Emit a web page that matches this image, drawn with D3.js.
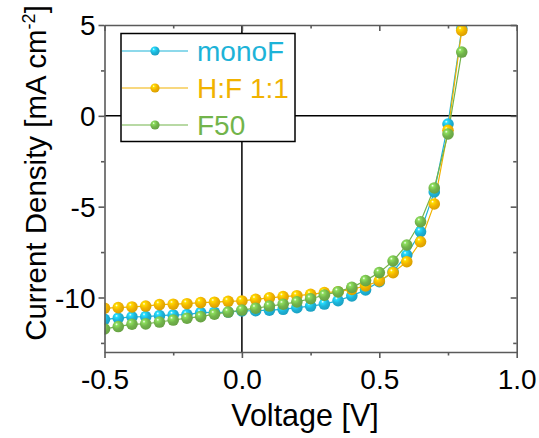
<!DOCTYPE html>
<html><head><meta charset="utf-8">
<script src="https://cdn.jsdelivr.net/npm/d3@7"></script>
<style>body{margin:0;background:#fff}svg{display:block}text{font-family:"Liberation Sans",Arial,sans-serif}</style>
</head><body>
<script>
const voltage = [-0.5,-0.45,-0.4,-0.35,-0.3,-0.25,-0.2,-0.15,-0.1,-0.05,0,0.05,0.1,0.15,0.2,0.25,0.3,0.35,0.4,0.45,0.5,0.55,0.6,0.65,0.7,0.75,0.8];
const monoF = [-11.20,-11.14,-11.07,-11.05,-11.00,-10.96,-10.94,-10.83,-10.82,-10.80,-10.74,-10.73,-10.70,-10.65,-10.56,-10.47,-10.36,-10.17,-9.91,-9.58,-9.13,-8.58,-7.66,-6.38,-4.19,-0.45,4.8];
const hf11 = [-10.59,-10.56,-10.52,-10.47,-10.39,-10.37,-10.34,-10.28,-10.26,-10.21,-10.19,-10.10,-10.02,-9.95,-9.90,-9.83,-9.73,-9.68,-9.55,-9.36,-9.09,-8.63,-8.03,-6.93,-4.85,-0.8,4.7];
const f50 = [-11.73,-11.60,-11.47,-11.45,-11.35,-11.24,-11.14,-11.05,-10.92,-10.80,-10.69,-10.59,-10.47,-10.37,-10.24,-10.07,-9.87,-9.68,-9.44,-9.07,-8.63,-7.99,-7.11,-5.83,-3.97,-1.0,3.51];
const seriesNames = ["monoF","H:F 1:1","F50"];
const seriesColors = ["#1db3d8","#f1b200","#72b44b"];
const xMajor = [-0.5,0,0.5,1.0], xMinor = [-0.25,0.25,0.75];
const xLabels = ["-0.5","0.0","0.5","1.0"];
const yMajor = [5,0,-5,-10], yMinor = [2.5,-2.5,-7.5,-12.5];
const yLabels = ["5","0","-5","-10"];

const W=539,H=438;
const L=104.5,R=516.7,T=25,B=352;
const x=d3.scaleLinear().domain([-0.5,1.0]).range([L,R]);
const y=d3.scaleLinear().domain([-13,5]).range([B,T]);
const svg=d3.select("body").append("svg").attr("width",W).attr("height",H);
const defs=svg.append("defs");
defs.append("clipPath").attr("id","clip").append("rect").attr("x",L).attr("y",T).attr("width",R-L).attr("height",B-T);

seriesColors.forEach((c,i)=>{
  const g=defs.append("radialGradient").attr("id","ball"+i).attr("cx","0.38").attr("cy","0.35").attr("r","0.7").attr("fx","0.35").attr("fy","0.3");
  const cc=d3.color(c);
  g.append("stop").attr("offset","0").attr("stop-color","#ffffff");
  g.append("stop").attr("offset","0.18").attr("stop-color",cc.brighter(0.6).formatHex());
  g.append("stop").attr("offset","0.55").attr("stop-color",c);
  g.append("stop").attr("offset","1").attr("stop-color",cc.darker(0.35).formatHex());
});

// zero lines
svg.append("line").attr("x1",L).attr("x2",R).attr("y1",y(0)).attr("y2",y(0)).attr("stroke","#000").attr("stroke-width",1.5);
svg.append("line").attr("x1",x(0)).attr("x2",x(0)).attr("y1",T).attr("y2",B).attr("stroke","#000").attr("stroke-width",1.5);

const data=[monoF,hf11,f50];
const plot=svg.append("g").attr("clip-path","url(#clip)");
const line=d3.line().x((d,i)=>x(voltage[i])).y(d=>y(d));
data.forEach((s,i)=>{
  plot.append("path").datum(s).attr("d",line).attr("fill","none").attr("stroke",seriesColors[i]).attr("stroke-width",1.2);
});
data.forEach((s,i)=>{
  plot.selectAll(null).data(s).enter().append("circle")
    .attr("cx",(d,j)=>x(voltage[j])).attr("cy",d=>y(d)).attr("r",5.8).attr("fill","url(#ball"+i+")");
});

// axes
const axCol="#5a5a5a";
function styleAxis(g){g.select(".domain").attr("stroke",axCol).attr("stroke-width",1.6);g.selectAll(".tick line").attr("stroke",axCol).attr("stroke-width",1.6);}
const axB=svg.append("g").attr("transform",`translate(0,${B})`).call(d3.axisBottom(x).tickValues(xMajor).tickSize(6).tickSizeOuter(0).tickFormat((d,i)=>xLabels[i]));
axB.call(styleAxis);
axB.selectAll(".tick text").attr("font-size",28).attr("fill","#000").attr("dy","0").attr("y",37);
svg.append("g").attr("transform",`translate(0,${B})`).call(d3.axisBottom(x).tickValues(xMinor).tickSize(3.5).tickSizeOuter(0).tickFormat("")).call(styleAxis).select(".domain").remove();
const axT=svg.append("g").attr("transform",`translate(0,${T})`).call(d3.axisBottom(x).tickValues(xMajor).tickSize(6).tickSizeOuter(0).tickFormat(""));
axT.call(styleAxis);
svg.append("g").attr("transform",`translate(0,${T})`).call(d3.axisBottom(x).tickValues(xMinor).tickSize(3.5).tickSizeOuter(0).tickFormat("")).call(styleAxis).select(".domain").remove();

const axL=svg.append("g").attr("transform",`translate(${L},0)`).call(d3.axisLeft(y).tickValues(yMajor).tickSize(6).tickSizeOuter(0).tickFormat((d,i)=>yLabels[i]));
axL.call(styleAxis);
axL.selectAll(".tick text").attr("font-size",28).attr("fill","#000").attr("x",-9).attr("dy","0.35em");
svg.append("g").attr("transform",`translate(${L},0)`).call(d3.axisLeft(y).tickValues(yMinor).tickSize(3.5).tickSizeOuter(0).tickFormat("")).call(styleAxis).select(".domain").remove();
const axR=svg.append("g").attr("transform",`translate(${R},0)`).call(d3.axisLeft(y).tickValues(yMajor).tickSize(6).tickSizeOuter(0).tickFormat(""));
axR.call(styleAxis);
svg.append("g").attr("transform",`translate(${R},0)`).call(d3.axisLeft(y).tickValues(yMinor).tickSize(3.5).tickSizeOuter(0).tickFormat("")).call(styleAxis).select(".domain").remove();

// titles
svg.append("text").attr("x",305).attr("y",426).attr("text-anchor","middle").attr("font-size",30.5).text("Voltage [V]");
const yt=svg.append("text").attr("transform",`translate(46,173) rotate(-90)`).attr("text-anchor","middle").attr("font-size",29.5);
yt.append("tspan").text("Current Density [mA cm");
yt.append("tspan").attr("font-size",18).attr("dy",-11).text("-2");
yt.append("tspan").attr("dy",11).text("]");

// legend
const lg=svg.append("g");
lg.append("rect").attr("x",121).attr("y",33.5).attr("width",174).attr("height",108).attr("fill","#fff").attr("stroke","#000").attr("stroke-width",1.5);
seriesNames.forEach((n,i)=>{
  const yy=51+i*37;
  lg.append("line").attr("x1",122).attr("x2",188).attr("y1",yy).attr("y2",yy).attr("stroke",seriesColors[i]).attr("stroke-width",1.2);
  lg.append("circle").attr("cx",155).attr("cy",yy).attr("r",4.6).attr("fill","url(#ball"+i+")");
  lg.append("text").attr("x",197).attr("y",yy+10).attr("font-size",28).attr("fill",seriesColors[i]).text(n);
});
</script>
</body></html>
